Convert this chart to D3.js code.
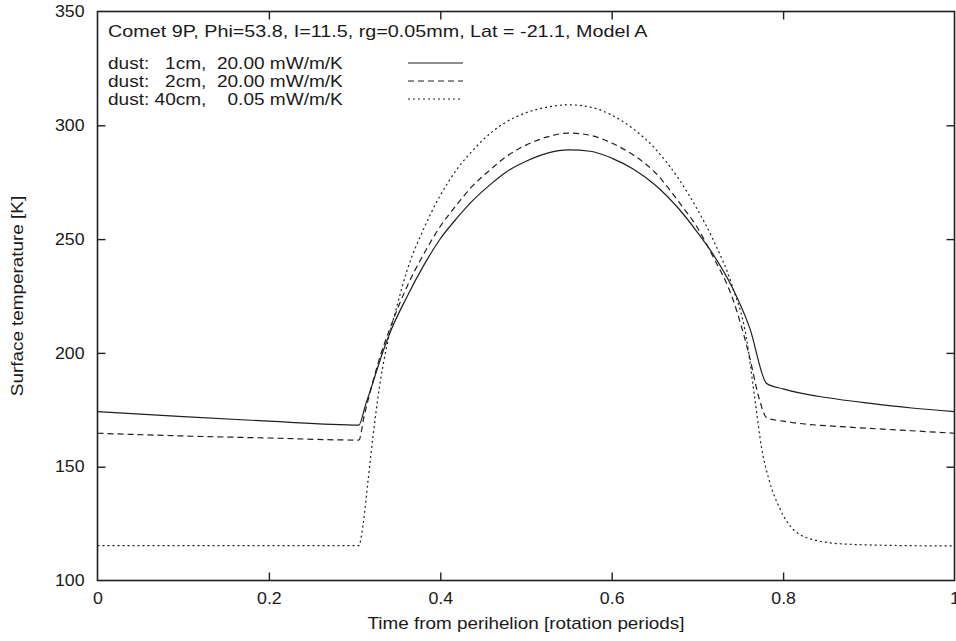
<!DOCTYPE html>
<html>
<head>
<meta charset="utf-8">
<script src="https://cdn.jsdelivr.net/npm/d3@7"></script>
<style>
  html, body { margin: 0; padding: 0; background: #fff; }
  svg { display: block; }
  text { font-family: "Liberation Sans", Arial, Helvetica, sans-serif; fill: #1a1a1a; }
</style>
</head>
<body>
<svg id="chart" width="956" height="641"></svg>
<script>
// ---------------- DATA ----------------
const titleText = "Comet 9P, Phi=53.8, I=11.5, rg=0.05mm, Lat = -21.1, Model A";
const xLabel = "Time from perihelion [rotation periods]";
const yLabel = "Surface temperature [K]";
const xTicks = [0, 0.2, 0.4, 0.6, 0.8, 1];
const xTickLabels = ["0", "0.2", "0.4", "0.6", "0.8", "1"];
const yTicks = [100, 150, 200, 250, 300, 350];
const seriesNames = [
  "dust:   1cm,  20.00 mW/m/K",
  "dust:   2cm,  20.00 mW/m/K",
  "dust: 40cm,    0.05 mW/m/K"
];

// series 1: dust 1cm, 20 mW/m/K (solid)
const s1x = [0, 0.1, 0.2, 0.305, 0.313, 0.321, 0.329, 0.341, 0.361, 0.38, 0.399, 0.42, 0.438, 0.46, 0.477, 0.5, 0.525, 0.55,
             0.575, 0.6, 0.625, 0.65, 0.679, 0.7, 0.718, 0.741, 0.761, 0.781, 0.8, 0.819, 0.85, 0.9, 0.95, 1.0];
const s1y = [174.2, 172.0, 170.0, 168.3, 177.5, 186.5, 196.0, 208.6, 224.6, 238.0, 249.6, 259.5, 267.0, 274.5, 279.5, 284.2, 287.8, 289.2,
             288.6, 285.6, 280.8, 274.0, 263.0, 253.0, 243.5, 228.5, 211.0, 186.5, 184.2, 182.4, 180.4, 177.9, 175.8, 174.2];

// series 2: dust 2cm, 20 mW/m/K (dashed)
const s2x = [0, 0.1, 0.2, 0.305, 0.311, 0.319, 0.329, 0.341, 0.361, 0.38, 0.399, 0.42, 0.438, 0.46, 0.477, 0.5, 0.525, 0.55,
             0.575, 0.6, 0.625, 0.65, 0.679, 0.7, 0.718, 0.741, 0.761, 0.772, 0.781, 0.8, 0.819, 0.868, 0.95, 1.0];
const s2y = [164.7, 163.5, 162.6, 161.7, 172.0, 184.0, 197.5, 210.5, 229.0, 243.0, 255.0, 265.5, 273.5, 281.0, 286.3, 291.3, 294.9, 296.6,
             295.6, 292.2, 287.0, 279.5, 266.0, 255.0, 242.5, 224.0, 198.0, 180.0, 171.4, 170.0, 169.0, 167.6, 165.8, 164.7];

// series 3: dust 40cm, 0.05 mW/m/K (dotted)
const s3x = [0, 0.1, 0.2, 0.305, 0.31, 0.316, 0.322, 0.329, 0.337, 0.349, 0.361, 0.38, 0.399, 0.42, 0.438, 0.46, 0.477, 0.5, 0.525, 0.55,
             0.575, 0.6, 0.625, 0.65, 0.679, 0.7, 0.718, 0.741, 0.757, 0.767, 0.775, 0.783, 0.797, 0.813, 0.84, 0.873, 0.95, 1.0];
const s3y = [115.3, 115.3, 115.3, 115.3, 125.0, 145.0, 165.0, 185.0, 202.0, 220.0, 236.0, 254.0, 268.5, 281.0, 289.0, 297.0, 301.5, 305.5, 308.0, 309.0,
             308.0, 304.5, 298.5, 290.0, 276.0, 263.0, 250.0, 229.0, 207.0, 180.0, 158.0, 145.0, 131.0, 122.0, 117.5, 116.0, 115.3, 115.2];

// ---------------- LAYOUT ----------------
const svg = d3.select("#chart");
const L = 97.5, R = 954.5, T = 11.5, B = 580.5;
const x = d3.scaleLinear().domain([0, 1]).range([L, R]);
const y = d3.scaleLinear().domain([100, 350]).range([B, T]);
const ink = "#1f1f1f";
const tickLen = 8;
const sTick = 1.11, sText = 1.19, sTitle = 1.235;

// axes (ticks inward, mirrored)
const gB = svg.append("g").attr("transform", `translate(0,${B})`)
  .call(d3.axisBottom(x).tickValues(xTicks).tickFormat((d, i) => xTickLabels[i])
        .tickSizeInner(-tickLen).tickSizeOuter(0).tickPadding(12));
const gT = svg.append("g").attr("transform", `translate(0,${T})`)
  .call(d3.axisTop(x).tickValues(xTicks).tickFormat("")
        .tickSizeInner(-tickLen).tickSizeOuter(0));
const gL = svg.append("g").attr("transform", `translate(${L},0)`)
  .call(d3.axisLeft(y).tickValues(yTicks).tickFormat(d3.format("d"))
        .tickSizeInner(-tickLen).tickSizeOuter(0).tickPadding(13));
const gR = svg.append("g").attr("transform", `translate(${R},0)`)
  .call(d3.axisRight(y).tickValues(yTicks).tickFormat("")
        .tickSizeInner(-tickLen).tickSizeOuter(0));

[gB, gT, gL, gR].forEach(g => {
  g.select(".domain").remove();
  g.selectAll(".tick line").attr("stroke", ink).attr("stroke-width", 1.4);
  g.selectAll("text").attr("font-size", 16).attr("fill", ink)
    .attr("font-family", "'Liberation Sans', Arial, sans-serif");
});
// remove end ticks that coincide with the frame corners
[gB, gT].forEach(g => g.selectAll(".tick").filter(d => d === 0 || d === 1).select("line").remove());
[gL, gR].forEach(g => g.selectAll(".tick").filter(d => d === 100 || d === 350).select("line").remove());

// horizontally stretched tick labels
gL.selectAll(".tick text").attr("x", -13 / sTick).attr("transform", `scale(${sTick},1)`);
gB.selectAll(".tick text").attr("transform", `scale(${sTick},1)`);

// frame
svg.append("rect").attr("x", L).attr("y", T).attr("width", R - L).attr("height", B - T)
  .attr("fill", "none").attr("stroke", ink).attr("stroke-width", 1.6);

// axis titles
svg.append("text")
  .attr("transform", `translate(${(L + R) / 2},629) scale(1.18,1)`)
  .attr("text-anchor", "middle").attr("font-size", 16).text(xLabel);
svg.append("text")
  .attr("transform", `translate(23,${(T + B) / 2}) rotate(-90) scale(1.18,1)`)
  .attr("text-anchor", "middle").attr("font-size", 16).text(yLabel);

// chart title
svg.append("text")
  .attr("transform", `translate(108,36.5) scale(${sTitle},1)`)
  .attr("font-size", 16).text(titleText);

// series
const series = [
  { xs: s1x, ys: s1y, dash: null, name: seriesNames[0] },
  { xs: s2x, ys: s2y, dash: "6,4", name: seriesNames[1] },
  { xs: s3x, ys: s3y, dash: "2,3", name: seriesNames[2] }
];
const line = d3.line().x(d => x(d[0])).y(d => y(d[1])).curve(d3.curveMonotoneX);
const plot = svg.append("g");
series.forEach(s => {
  const pts = s.xs.map((v, i) => [v, s.ys[i]]);
  plot.append("path").datum(pts)
    .attr("d", line)
    .attr("fill", "none").attr("stroke", ink).attr("stroke-width", 1.2)
    .attr("stroke-dasharray", s.dash);
});

// legend
const rowY = [63, 81, 99];
series.forEach((s, i) => {
  svg.append("text")
    .attr("transform", `translate(108,${rowY[i] + 5.5}) scale(${sText},1)`)
    .attr("font-size", 16).attr("xml:space", "preserve").style("white-space", "pre")
    .text(s.name);
  svg.append("line")
    .attr("x1", 408).attr("x2", 463).attr("y1", rowY[i]).attr("y2", rowY[i])
    .attr("stroke", ink).attr("stroke-width", 1.2).attr("stroke-dasharray", s.dash);
});
</script>
</body>
</html>
